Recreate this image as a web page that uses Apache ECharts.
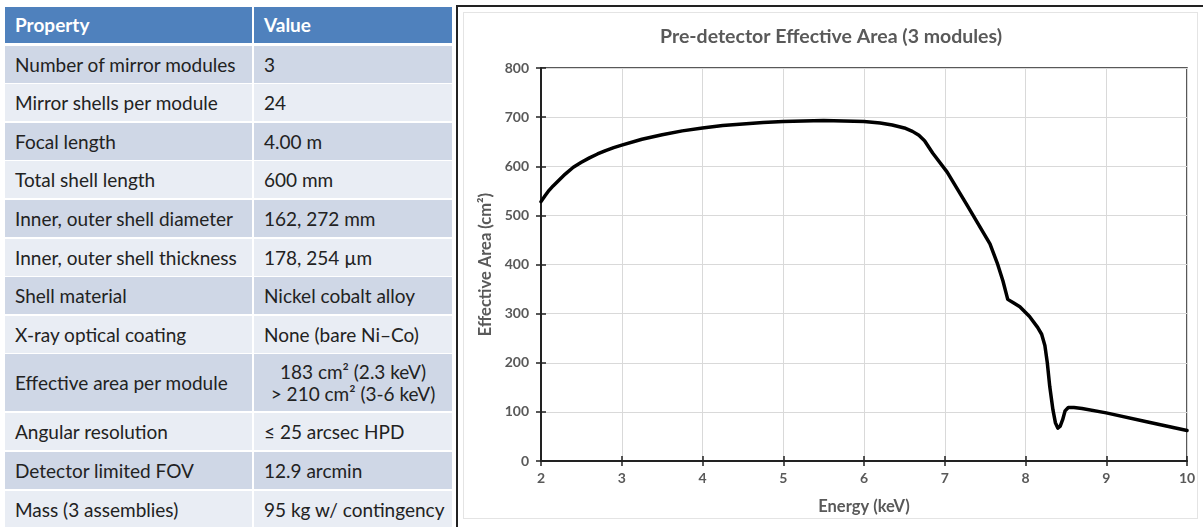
<!DOCTYPE html>
<html>
<head>
<meta charset="utf-8">
<script src="https://cdn.jsdelivr.net/npm/echarts@6/dist/echarts.min.js"></script>
<style>
  body { margin: 0; width: 1203px; height: 527px; background: #fff; overflow: hidden; font-family: Lato, "Open Sans", sans-serif; position: relative; }
  .cell { position: absolute; box-sizing: border-box; font-size: 19px; color: #222; display: flex; align-items: center; padding-left: 10px; line-height: 1.15; }
  .head { background: #4f81bd; color: #fff; font-weight: bold; }
  .dark { background: #cfd7e6; }
  .light { background: #e9edf4; }
  .panel { position: absolute; left: 456px; top: 5px; width: 747px; height: 522px; border-left: 2px solid #222; border-top: 2px solid #222; box-sizing: border-box; }
  .frame { position: absolute; left: 463px; top: 12px; width: 735px; height: 507px; border: 1px solid #e4e4e4; box-sizing: border-box; }
  #chart { position: absolute; left: 459px; top: 7px; width: 744px; height: 520px; }
</style>
</head>
<body>
<div id="table"></div>
<div class="panel"></div>
<div class="frame"></div>
<div id="chart"></div>
<script>
// table contents
const tableHeader = ['Property', 'Value']
const properties = ['Number of mirror modules', 'Mirror shells per module', 'Focal length', 'Total shell length',
  'Inner, outer shell diameter', 'Inner, outer shell thickness', 'Shell material', 'X-ray optical coating',
  'Effective area per module', 'Angular resolution', 'Detector limited FOV', 'Mass (3 assemblies)']
const values = ['3', '24', '4.00 m', '600 mm', '162, 272 mm', '178, 254 µm', 'Nickel cobalt alloy', 'None (bare Ni–Co)',
  '183 cm² (2.3 keV)<br>&gt; 210 cm² (3-6 keV)', '≤ 25 arcsec HPD', '12.9 arcmin', '95 kg w/ contingency']

// effective area curve (keV, cm²)
const energy = [2.0, 2.05, 2.1, 2.15, 2.2, 2.3, 2.4, 2.5, 2.6, 2.7, 2.8, 2.9, 3.0, 3.25, 3.5, 3.75, 4.0, 4.25, 4.5,
  4.75, 5.0, 5.25, 5.5, 5.75, 6.0, 6.2, 6.35, 6.5, 6.6, 6.68, 6.75, 6.85, 7.03, 7.28, 7.56, 7.65, 7.72, 7.78, 7.85,
  7.93, 8.05, 8.15, 8.2, 8.24, 8.27, 8.30, 8.34, 8.37, 8.40, 8.43, 8.46, 8.49, 8.53, 8.6, 8.7, 9.0, 9.5, 10.0]
const area = [528, 540, 551, 560, 568, 584, 598, 608, 617, 625, 632, 638, 643, 655, 664, 672, 678, 683, 686,
  689, 691, 692, 693, 692, 691, 688, 684, 678, 671, 663, 652, 627, 588, 520, 442, 403, 367, 329, 322,
  314, 294, 272, 258, 235, 200, 152, 104, 78, 67, 71, 84, 102, 109, 109, 107, 98, 80, 62]

const xTicks = [2, 10, 1]
const yTicks = [0, 800, 100]

// build table
const tbl = document.getElementById('table')
function addCell(txt, x, y, w, h, cls, center) {
  const d = document.createElement('div')
  d.className = 'cell ' + cls
  d.style.left = x + 'px'
  d.style.top = y + 'px'
  d.style.width = w + 'px'
  d.style.height = h + 'px'
  if (center) { d.style.justifyContent = 'center'; d.style.textAlign = 'center'; d.style.paddingLeft = '0' }
  d.innerHTML = txt
  tbl.appendChild(d)
}
let y = 7
addCell(tableHeader[0], 5, y, 247, 36, 'head')
addCell(tableHeader[1], 254, y, 198, 36, 'head')
y += 38.6
properties.forEach((p, i) => {
  const h = i === 8 ? 57 : 36.6
  const cls = i % 2 === 0 ? 'dark' : 'light'
  addCell(p, 5, Math.round(y), 247, Math.round(h), cls)
  addCell(values[i], 254, Math.round(y), 198, Math.round(h), cls, i === 8)
  y += h + 2
})

const chart = echarts.init(document.getElementById('chart'))
const axisText = { color: '#595959', fontSize: 14, fontWeight: 'bold', fontFamily: 'Lato' }
const nameText = { color: '#595959', fontSize: 16.5, fontWeight: 'bold', fontFamily: 'Lato' }
const option = {
  animation: false,
  title: {
    text: 'Pre-detector Effective Area (3 modules)',
    left: 'center',
    top: 15,
    textStyle: { color: '#595959', fontSize: 19.5, fontWeight: 'bold', fontFamily: 'Lato' }
  },
  grid: { left: 82, right: 16, top: 61, bottom: 66, show: true, borderColor: '#222', borderWidth: 1.5 },
  xAxis: [
    {
      type: 'value', min: xTicks[0], max: xTicks[1], interval: xTicks[2],
      name: 'Energy (keV)', nameLocation: 'middle', nameGap: 37,
      nameTextStyle: nameText,
      axisLine: { lineStyle: { color: '#222', width: 2 } },
      axisTick: { length: 5, lineStyle: { color: '#222', width: 1.5 } },
      axisLabel: Object.assign({ margin: 10 }, axisText),
      splitLine: { lineStyle: { color: '#d9d9d9' } }
    },
    {
      type: 'value', min: xTicks[0], max: xTicks[1], interval: xTicks[2], position: 'bottom',
      axisLine: { show: false },
      axisTick: { inside: true, length: 5, lineStyle: { color: '#222', width: 1.5 } },
      axisLabel: { show: false }, splitLine: { show: false }
    }
  ],
  yAxis: [
    {
      type: 'value', min: yTicks[0], max: yTicks[1], interval: yTicks[2],
      name: 'Effective Area (cm²)', nameLocation: 'middle', nameGap: 43,
      nameTextStyle: nameText,
      axisLine: { show: true, lineStyle: { color: '#222', width: 2 } },
      axisTick: { show: true, length: 5, lineStyle: { color: '#222', width: 1.5 } },
      axisLabel: Object.assign({ margin: 12 }, axisText),
      splitLine: { lineStyle: { color: '#d9d9d9' } }
    },
    {
      type: 'value', min: yTicks[0], max: yTicks[1], interval: yTicks[2], position: 'left',
      axisLine: { show: false },
      axisTick: { show: true, inside: true, length: 5, lineStyle: { color: '#222', width: 1.5 } },
      axisLabel: { show: false }, splitLine: { show: false }
    }
  ],
  series: [
    {
      type: 'line',
      data: energy.map((e, i) => [e, area[i]]),
      showSymbol: false,
      smooth: false,
      lineStyle: { color: '#000', width: 3.5, join: 'round', cap: 'round' }
    }
  ]
}
chart.setOption(option)
</script>
</body>
</html>
